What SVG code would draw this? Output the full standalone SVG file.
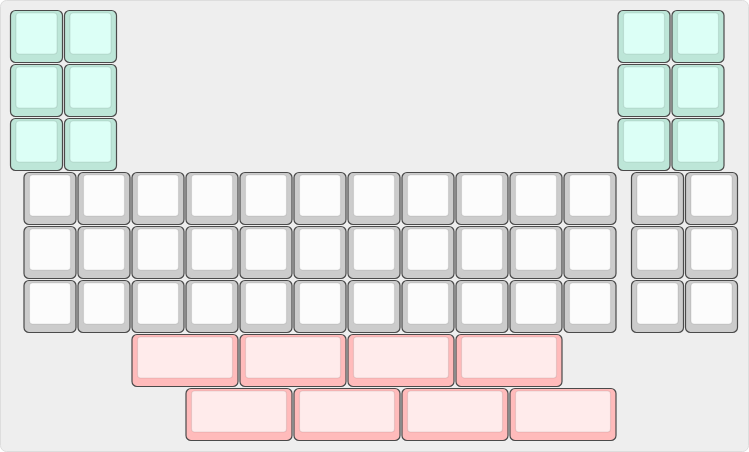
<svg xmlns="http://www.w3.org/2000/svg" width="749" height="452" viewBox="0 0 749 452">
<style>
.o{stroke:#4a4a4a;stroke-width:1.2;fill:var(--o)}
.i{stroke:rgba(0,0,0,0.09);stroke-width:1.2;fill:var(--i)}
.t{--o:#bde6d8;--i:#dcfff6}
.g{--o:#cccccc;--i:#fcfcfc}
.p{--o:#ffbbbb;--i:#ffebeb}
</style>
<defs>
<g id="k1"><rect class="o" x="0.5" y="0.5" width="52" height="52" rx="5"/><rect class="i" x="6" y="3" width="41" height="41" rx="3"/></g>
<g id="k2"><rect class="o" x="0.5" y="0.5" width="106" height="52" rx="5"/><rect class="i" x="6" y="3" width="95" height="41" rx="3"/></g>
</defs>
<rect x="0.5" y="0.5" width="748" height="451" rx="6" fill="#eeeeee" stroke="#dddddd"/>
<g id="teal-left" class="t">
<use href="#k1" x="10" y="10"/><use href="#k1" x="64" y="10"/>
<use href="#k1" x="10" y="64"/><use href="#k1" x="64" y="64"/>
<use href="#k1" x="10" y="118"/><use href="#k1" x="64" y="118"/>
</g>
<g id="teal-right" class="t">
<use href="#k1" x="617.5" y="10"/><use href="#k1" x="671.5" y="10"/>
<use href="#k1" x="617.5" y="64"/><use href="#k1" x="671.5" y="64"/>
<use href="#k1" x="617.5" y="118"/><use href="#k1" x="671.5" y="118"/>
</g>
<g id="main" class="g">
<use href="#k1" x="23.5" y="172"/><use href="#k1" x="77.5" y="172"/><use href="#k1" x="131.5" y="172"/><use href="#k1" x="185.5" y="172"/><use href="#k1" x="239.5" y="172"/><use href="#k1" x="293.5" y="172"/><use href="#k1" x="347.5" y="172"/><use href="#k1" x="401.5" y="172"/><use href="#k1" x="455.5" y="172"/><use href="#k1" x="509.5" y="172"/><use href="#k1" x="563.5" y="172"/>
<use href="#k1" x="23.5" y="226"/><use href="#k1" x="77.5" y="226"/><use href="#k1" x="131.5" y="226"/><use href="#k1" x="185.5" y="226"/><use href="#k1" x="239.5" y="226"/><use href="#k1" x="293.5" y="226"/><use href="#k1" x="347.5" y="226"/><use href="#k1" x="401.5" y="226"/><use href="#k1" x="455.5" y="226"/><use href="#k1" x="509.5" y="226"/><use href="#k1" x="563.5" y="226"/>
<use href="#k1" x="23.5" y="280"/><use href="#k1" x="77.5" y="280"/><use href="#k1" x="131.5" y="280"/><use href="#k1" x="185.5" y="280"/><use href="#k1" x="239.5" y="280"/><use href="#k1" x="293.5" y="280"/><use href="#k1" x="347.5" y="280"/><use href="#k1" x="401.5" y="280"/><use href="#k1" x="455.5" y="280"/><use href="#k1" x="509.5" y="280"/><use href="#k1" x="563.5" y="280"/>
</g>
<g id="side" class="g">
<use href="#k1" x="631" y="172"/><use href="#k1" x="685" y="172"/>
<use href="#k1" x="631" y="226"/><use href="#k1" x="685" y="226"/>
<use href="#k1" x="631" y="280"/><use href="#k1" x="685" y="280"/>
</g>
<g id="thumb" class="p">
<use href="#k2" x="131.5" y="334"/><use href="#k2" x="239.5" y="334"/><use href="#k2" x="347.5" y="334"/><use href="#k2" x="455.5" y="334"/>
<use href="#k2" x="185.5" y="388"/><use href="#k2" x="293.5" y="388"/><use href="#k2" x="401.5" y="388"/><use href="#k2" x="509.5" y="388"/>
</g>
</svg>
